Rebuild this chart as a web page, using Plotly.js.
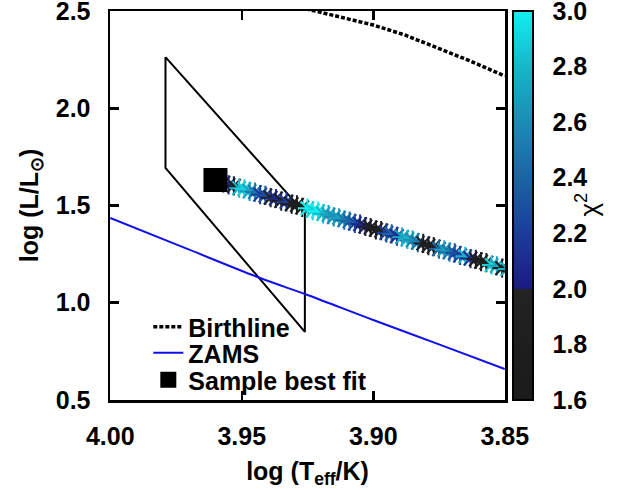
<!DOCTYPE html>
<html>
<head>
<meta charset="utf-8">
<script src="https://cdn.plot.ly/plotly-3.0.1.min.js"></script>
<style>html,body{margin:0;padding:0;background:#fff;}#chart{width:623px;height:490px;}</style>
</head>
<body>
<div id="chart"></div>
<script>
// Sample fits (log Teff, log L, chi^2)
const fitLogT = [3.957,3.955,3.953,3.951,3.949,3.947,3.945,3.943,3.941,3.939,
                 3.937,3.935,3.933,3.931,3.929,3.927,3.925,3.923,3.921,3.919,
                 3.917,3.915,3.913,3.911,3.909,3.907,3.905,3.903,3.901,3.899,
                 3.897,3.895,3.893,3.891,3.889,3.887,3.885,3.883,3.881,3.879,
                 3.877,3.875,3.873,3.871,3.869,3.867,3.865,3.863,3.861,3.859,
                 3.857,3.855,3.853,3.851,3.849,3.847];
const fitLogL = [1.616,1.606,1.601,1.589,1.585,1.573,1.569,1.556,1.552,1.540,
                 1.536,1.523,1.519,1.507,1.503,1.490,1.486,1.474,1.470,1.457,
                 1.453,1.441,1.437,1.425,1.420,1.408,1.404,1.392,1.387,1.375,
                 1.371,1.359,1.354,1.342,1.338,1.326,1.322,1.309,1.305,1.293,
                 1.289,1.276,1.272,1.260,1.256,1.243,1.239,1.227,1.223,1.211,
                 1.206,1.194,1.190,1.178,1.174,1.161];
const fitChi2 = [1.8,2.1,1.9,2.8,2.9,2.7,2.5,2.2,2.3,1.9,
                 2.1,1.8,2.2,1.7,1.8,1.7,3.0,2.9,3.0,2.8,
                 2.7,2.6,2.7,2.5,2.4,2.3,2.1,2.0,1.8,1.7,
                 1.9,2.2,2.4,2.1,2.7,2.8,2.6,2.5,1.7,1.8,
                 1.9,2.4,2.7,2.5,2.3,2.2,2.8,2.1,1.8,1.7,
                 1.9,2.9,2.7,1.8,2.8,1.7];

// Best fit of sample
const bestLogT = [3.960];
const bestLogL = [1.631];

// Birthline
const birthLogT = [3.930,3.922,3.911,3.900,3.888,3.877,3.864,3.850];
const birthLogL = [2.526,2.500,2.466,2.428,2.377,2.320,2.248,2.166];

// ZAMS
const zamsLogT = [4.000,3.970,3.943,3.925,3.900,3.875,3.850];
const zamsLogL = [1.436,1.273,1.127,1.040,0.911,0.786,0.659];

// Observational error box
const boxLogT = [3.979,3.979,3.926,3.926,3.979];
const boxLogL = [2.263,1.693,0.850,1.461,2.263];

// Axis ticks
const xTicks = [4.00,3.95,3.90,3.85];
const xTickText = ['4.00','3.95','3.90','3.85'];
const yTicks = [0.5,1.0,1.5,2.0,2.5];
const yTickText = ['0.5','1.0','1.5','2.0','2.5'];
const cbTicks = [1.6,1.8,2.0,2.2,2.4,2.6,2.8,3.0];
const cbTickText = ['1.6','1.8','2.0','2.2','2.4','2.6','2.8','3.0'];

const colorscale = [
  [0.0,'#1a1a1a'],[0.2857,'#232323'],[0.2858,'#1a1a84'],
  [0.4286,'#1c3c9e'],[0.5714,'#1a64a4'],[0.7143,'#1a8db4'],
  [0.8571,'#17b6c9'],[1.0,'#10f0f0']
];

const FONT = 'Liberation Sans';

const traces = [
  {x: boxLogT, y: boxLogL, mode:'lines', line:{color:'#000', width:2}, showlegend:false, hoverinfo:'skip'},
  {x: birthLogT, y: birthLogL, mode:'lines', name:'Birthline', legend:'legend',
   line:{color:'#000', width:3.5, dash:'4px,2px'}},
  {x: zamsLogT, y: zamsLogL, mode:'lines', name:'ZAMS', legend:'legend2',
   line:{color:'#1010ee', width:2, shape:'spline'}},
  {x: fitLogT, y: fitLogL, mode:'markers', showlegend:false,
   marker:{symbol:'asterisk-open', size:16, line:{width:2}, color: fitChi2,
     colorscale: colorscale, cmin:1.5999, cmax:3.0001, showscale:true,
     colorbar:{x:1.0203, xanchor:'left', xpad:0, y:0.5, yanchor:'middle', ypad:0,
       len:1, lenmode:'fraction', thickness:20, outlinewidth:2, outlinecolor:'#000',
       tickmode:'array', tickvals: cbTicks, ticktext: cbTickText,
       ticks:'outside', ticklen:14, tickcolor:'rgba(0,0,0,0)', ticklabeloverflow:'allow',
       tickfont:{size:25, color:'#000', family:FONT, weight:'bold'}}}},
  {x: bestLogT, y: bestLogL, mode:'markers', name:'Sample best fit', legend:'legend3',
   marker:{symbol:'square', size:24, color:'#000'}}
];

function leg(ypx){
  return {x:0.097, xanchor:'left', y:(400-ypx)/389, yanchor:'middle', bgcolor:'rgba(0,0,0,0)',
    borderwidth:0, font:{size:25, family:FONT, weight:'bold', color:'#000'}};
}

const layout = {
  width:623, height:490,
  margin:{l:110, r:118, t:11, b:90},
  paper_bgcolor:'#fff', plot_bgcolor:'#fff',
  font:{family:FONT, size:25, color:'#000', weight:'bold'},
  showlegend:true,
  legend: leg(327), legend2: leg(353), legend3: leg(380),
  xaxis:{range:[4.0001,3.8499], tickmode:'array', tickvals:xTicks, ticktext:xTickText,
    ticks:'inside', ticklen:9, tickwidth:2.5, tickcolor:'#000',
    showline:true, linewidth:2.5, linecolor:'#000', mirror:'ticks',
    showgrid:false, zeroline:false, ticklabelstandoff:12, ticklabeloverflow:'allow',
    title:{text:'log (T<sub>eff</sub>/K)', standoff:14, font:{size:25, weight:'bold'}}},
  yaxis:{range:[0.4999,2.5001], tickmode:'array', tickvals:yTicks, ticktext:yTickText,
    ticks:'inside', ticklen:9, tickwidth:2.5, tickcolor:'#000',
    showline:true, linewidth:2.5, linecolor:'#000', mirror:'ticks',
    showgrid:false, zeroline:false, ticklabelstandoff:12, ticklabeloverflow:'allow',
    title:{text:'log (L/L<sub>⊙</sub>)', standoff:10, font:{size:25, weight:'bold'}}},
  annotations:[{text:'χ<sup>2</sup>', xref:'paper', yref:'paper', x:1.2557, y:0.501,
    showarrow:false, textangle:-90, font:{size:26, family:FONT, color:'#000', weight:'normal'}}]
};

Plotly.newPlot('chart', traces, layout, {displayModeBar:false, staticPlot:true});
</script>
</body>
</html>
